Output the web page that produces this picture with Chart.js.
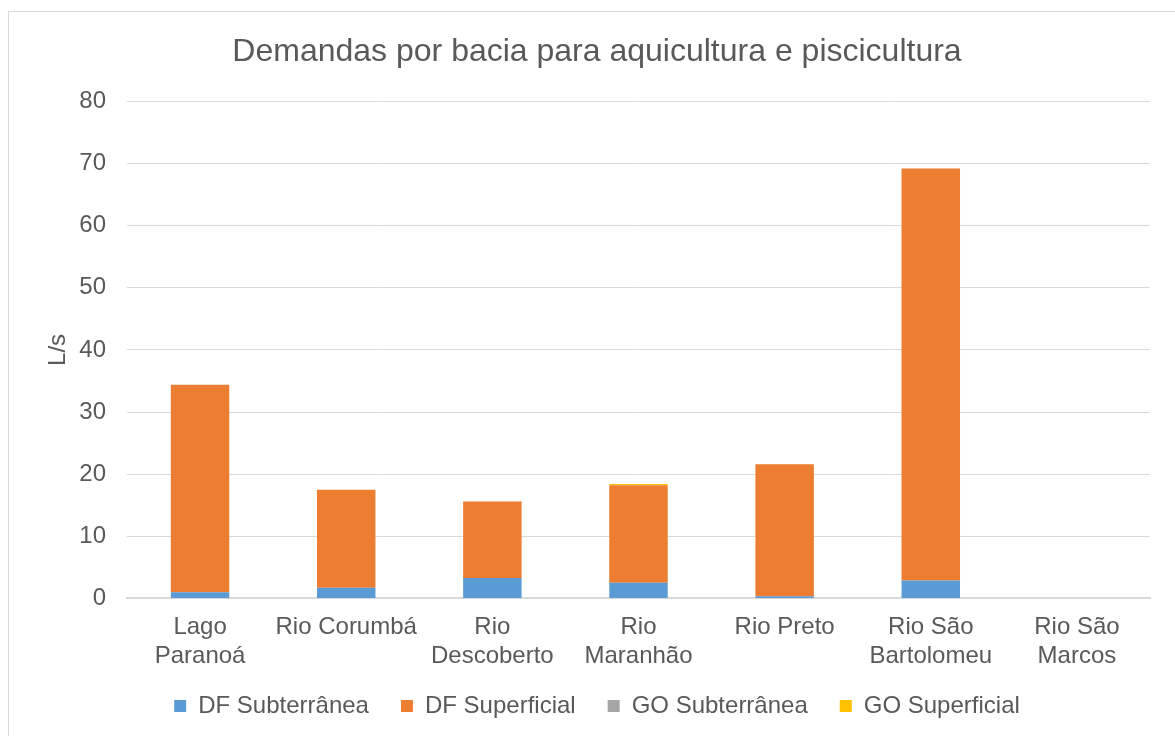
<!DOCTYPE html>
<html>
<head>
<meta charset="utf-8">
<script src="https://cdn.jsdelivr.net/npm/chart.js@4"></script>
<style>
  body { margin: 0; background: #fff; overflow: hidden; }
  #frame {
    position: absolute; left: 8px; top: 11px;
    width: 1180px; height: 740px;
    border: 1px solid #d9d9d9; background: #fff;
  }
  #wrap { position: absolute; left: 0; top: 0; width: 1166px; height: 724px; }
</style>
</head>
<body>
<div id="frame"><div id="wrap"><canvas id="chart"></canvas></div></div>
<script>
// data //
const bacias = [
    ['Lago', 'Paranoá'],
    'Rio Corumbá',
    ['Rio', 'Descoberto'],
    ['Rio', 'Maranhão'],
    'Rio Preto',
    ['Rio São', 'Bartolomeu'],
    ['Rio São', 'Marcos']
];
const dfSubterranea = [1.0, 1.7, 3.3, 2.5, 0.35, 2.9, 0];
const dfSuperficial = [33.4, 15.8, 12.3, 15.7, 21.25, 66.3, 0];
const goSubterranea = [0, 0, 0, 0, 0, 0, 0];
const goSuperficial = [0, 0, 0, 0.2, 0, 0, 0];
const yTicks = [0, 10, 20, 30, 40, 50, 60, 70, 80];

const textColor = '#595959';
const gridColor = '#d9d9d9';
Chart.defaults.font.family = '"Liberation Sans", Arial, sans-serif';
Chart.defaults.color = textColor;

const chart = document.querySelector('#chart').getContext('2d');

new Chart(chart, {
    type: 'bar',
    data: {
        labels: bacias,
        datasets: [
            { label: 'DF Subterrânea', data: dfSubterranea, backgroundColor: '#5b9bd5' },
            { label: 'DF Superficial', data: dfSuperficial, backgroundColor: '#ed7d31' },
            { label: 'GO Subterrânea', data: goSubterranea, backgroundColor: '#a5a5a5' },
            { label: 'GO Superficial', data: goSuperficial, backgroundColor: '#ffc000' }
        ]
    },
    options: {
        responsive: true,
        maintainAspectRatio: false,
        animation: false,
        categoryPercentage: 1,
        barPercentage: 0.4,
        layout: { padding: { left: 35, right: 25, top: 0, bottom: 8 } },
        plugins: {
            tooltip: { enabled: false },
            title: {
                display: true,
                text: 'Demandas por bacia para aquicultura e piscicultura',
                color: textColor,
                font: { size: 32, weight: 'normal' },
                padding: { top: 21, bottom: 30 }
            },
            legend: {
                position: 'bottom',
                labels: {
                    color: textColor,
                    font: { size: 24 },
                    boxWidth: 12,
                    boxHeight: 12,
                    padding: 32
                }
            }
        },
        scales: {
            x: {
                stacked: true,
                // labels may run into the legend's empty top padding, so no clipping
                afterFit: (scale) => {
                    scale.height -= 24;
                    scale._computeLabelArea = () => undefined;
                },
                grid: { display: false, drawTicks: false },
                border: { display: true, color: gridColor, width: 2 },
                ticks: { color: textColor, font: { size: 24 }, padding: 15, maxRotation: 0, autoSkip: false }
            },
            y: {
                stacked: true,
                min: 0,
                max: 80,
                afterFit: (scale) => { scale.width = 83; },
                afterBuildTicks: (scale) => { scale.ticks = yTicks.map(v => ({ value: v })); },
                grid: { color: gridColor, lineWidth: 1, drawTicks: false },
                border: { display: false },
                ticks: { color: textColor, font: { size: 24 }, padding: 21 },
                title: {
                    display: true,
                    text: 'L/s',
                    color: textColor,
                    font: { size: 24 },
                    padding: 0
                }
            }
        }
    }
})
</script>
</body>
</html>
